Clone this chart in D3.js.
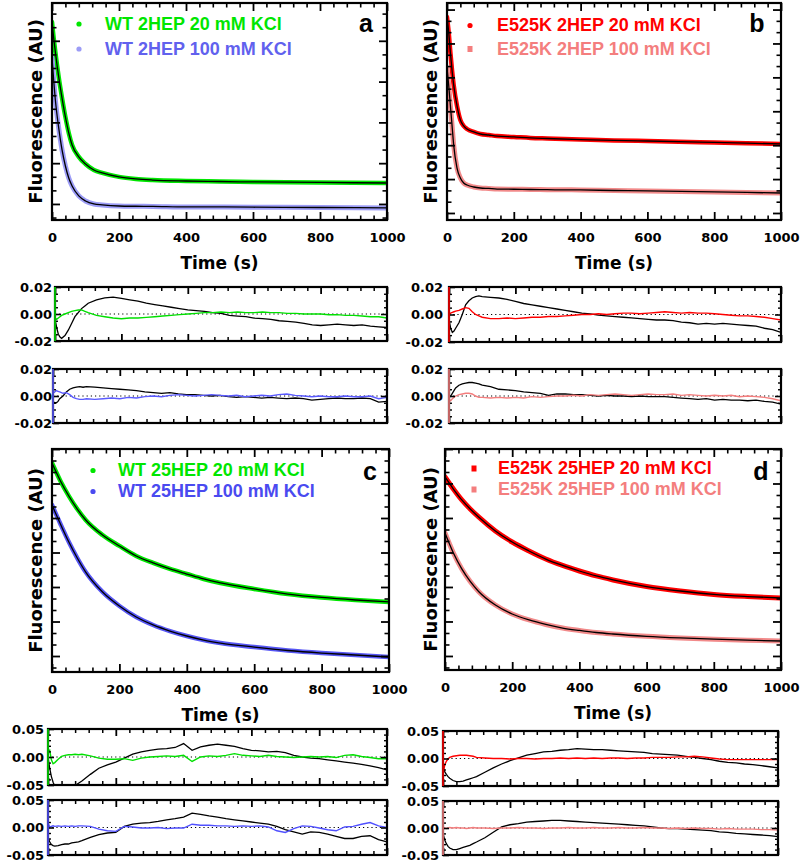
<!DOCTYPE html>
<html><head><meta charset="utf-8">
<script src="https://cdn.jsdelivr.net/npm/d3@7"></script>
<style>body{margin:0;background:#fff} svg{display:block}</style>
</head><body>
<svg id="chart" width="800" height="863"></svg>
<script>
// ---------- DATA ----------
const mainTimes2 = [0,5,10,15,20,30,40,50,60,80,100,125,150,200,250,300,400,500,600,800,1000];
const wt2hep20  = [13.38,12.21,11.18,10.22,9.34,7.79,6.40,5.22,4.34,3.46,2.94,2.50,2.28,1.99,1.84,1.76,1.69,1.65,1.62,1.58,1.54];
const wt2hep100 = [10.74,9.12,7.65,6.54,5.59,3.97,2.79,1.91,1.32,0.59,0.22,0.00,-0.07,-0.15,-0.17,-0.18,-0.22,-0.22,-0.24,-0.26,-0.29];
const mu2hep20  = [17.35,16.02,14.25,12.65,11.33,9.47,8.23,7.70,7.43,7.17,6.99,6.90,6.81,6.73,6.64,6.59,6.50,6.42,6.37,6.24,6.11];
const mu2hep100 = [12.83,11.33,9.56,7.79,6.02,3.98,3.10,2.65,2.48,2.30,2.21,2.17,2.12,2.10,2.08,2.06,2.04,1.99,1.95,1.86,1.77];

const mainTimes25 = [0,25,50,75,100,150,200,250,300,350,400,450,500,600,700,800,900,1000];
const wt25hep20  = [16.78,15.22,13.91,12.78,11.83,10.52,9.57,8.70,8.09,7.57,7.13,6.70,6.35,5.83,5.39,5.09,4.87,4.70];
const wt25hep100 = [13.13,11.48,9.91,8.52,7.30,5.57,4.35,3.39,2.70,2.17,1.74,1.39,1.13,0.78,0.48,0.26,0.09,-0.09];
const mu25hep20  = [15.57,14.52,13.57,12.78,12.09,10.87,9.91,9.13,8.43,7.87,7.39,6.96,6.61,6.04,5.65,5.35,5.17,5.04];
const mu25hep100 = [10.70,8.96,7.57,6.48,5.61,4.43,3.65,3.13,2.74,2.43,2.22,2.04,1.91,1.71,1.57,1.46,1.37,1.30];

const residTimes = [0,5,10,15,20,30,40,50,60,70,80,90,100,
  125,150,175,200,225,250,275,300,325,350,375,400,425,450,475,500,525,550,575,600,
  625,650,675,700,725,750,775,800,825,850,875,900,925,950,975,1000];

// residuals (black = single-exponential fit, coloured = double-exponential fit)
const resA20single = [-0.004,-0.010,-0.015,-0.017,-0.018,-0.016,-0.012,-0.007,-0.002,0.001,0.004,0.006,0.008,
  0.0105,0.012,0.0125,0.0115,0.0105,0.0095,0.008,0.007,0.006,0.005,0.004,0.003,0.0025,0.002,0.001,0.0005,-0.001,-0.0015,-0.002,-0.003,-0.0035,-0.004,-0.005,-0.0055,-0.006,-0.007,-0.008,-0.0085,-0.008,-0.0075,-0.008,-0.0085,-0.008,-0.009,-0.0095,-0.010];
const resA20double = [-0.003,-0.004,-0.003,-0.002,-0.001,0.000,0.001,0.002,0.0025,0.003,0.003,0.002,0.001,
  -0.001,-0.002,-0.003,-0.0035,-0.003,-0.003,-0.0025,-0.002,-0.0015,-0.001,-0.0005,0.000,0.0005,0.001,0.001,0.0015,0.001,0.0015,0.001,0.001,0.0015,0.001,0.001,0.0005,0.0005,0.000,0.000,0.000,-0.0005,-0.0005,-0.001,-0.001,-0.0015,-0.002,-0.002,-0.003];
const resA100single = [-0.004,-0.005,-0.005,-0.004,-0.002,0.000,0.003,0.005,0.006,0.0065,0.007,0.0065,0.007,
  0.0065,0.006,0.0055,0.005,0.0045,0.004,0.003,0.0025,0.002,0.0025,0.0015,0.001,0.001,0.0005,0.000,0.0005,-0.0005,-0.001,-0.0005,-0.001,-0.0015,-0.001,-0.0015,-0.002,-0.0015,-0.002,-0.003,-0.0025,-0.002,-0.0015,-0.002,-0.002,-0.0015,-0.002,-0.0045,-0.004];
const resA100double = [0.002,0.003,0.004,0.0035,0.003,0.002,0.0025,0.001,-0.001,-0.002,-0.0025,-0.0025,-0.002,
  -0.0025,-0.002,-0.0015,-0.002,-0.001,-0.0015,-0.0005,0.000,-0.0005,0.0005,0.001,0.0005,0.000,0.0005,0.001,0.0005,0.000,0.0005,-0.0005,0.000,0.0005,0.000,0.001,0.0015,0.0005,0.000,-0.0005,0.000,-0.0005,-0.0005,0.000,-0.0005,-0.0005,0.000,-0.002,-0.001];
const resB20single = [-0.004,-0.010,-0.013,-0.012,-0.010,-0.006,0.000,0.007,0.010,0.012,0.013,0.0135,0.013,
  0.0125,0.012,0.011,0.0095,0.008,0.007,0.006,0.005,0.004,0.003,0.002,0.001,0.0005,-0.0005,-0.001,-0.0015,-0.002,-0.0025,-0.003,-0.0035,-0.004,-0.004,-0.0045,-0.0055,-0.006,-0.007,-0.0065,-0.007,-0.0065,-0.007,-0.0075,-0.008,-0.0085,-0.010,-0.011,-0.013];
const resB20double = [0.000,0.001,0.0015,0.002,0.0025,0.003,0.004,0.005,0.0045,0.002,0.000,-0.001,-0.002,
  -0.003,-0.003,-0.0025,-0.003,-0.0025,-0.002,-0.002,-0.0015,-0.0015,-0.001,-0.0005,0.000,0.000,0.0005,0.000,0.0005,0.001,0.001,0.0005,0.001,0.0015,0.002,0.0015,0.001,0.0015,0.001,0.001,0.0005,0.000,-0.0005,-0.001,-0.001,-0.0015,-0.002,-0.003,-0.004];
const resB100single = [-0.001,0.000,0.002,0.004,0.006,0.008,0.009,0.0095,0.010,0.010,0.0095,0.009,0.008,
  0.007,0.005,0.0045,0.004,0.003,0.0025,0.002,0.0005,0.0015,0.0015,0.001,0.001,0.0005,0.000,0.0005,0.000,0.000,-0.0005,0.000,-0.0005,-0.0005,-0.0005,-0.001,-0.0015,-0.002,-0.0025,-0.002,-0.003,-0.0025,-0.003,-0.003,-0.0035,-0.003,-0.004,-0.0045,-0.006];
const resB100double = [-0.0025,-0.0035,-0.002,-0.001,0.000,0.001,0.0015,0.002,0.002,0.0015,0.000,-0.001,-0.001,
  -0.0015,-0.001,-0.0015,-0.001,-0.0015,-0.0005,-0.001,-0.0005,0.000,0.000,0.0005,0.000,0.001,0.0005,0.001,0.0015,0.001,0.0005,0.001,0.0015,0.001,0.001,0.0015,0.0005,0.001,0.0005,0.000,0.0005,0.000,0.0005,-0.0005,0.000,-0.0005,-0.001,-0.002,-0.0035];
const resC20single = [0.000,-0.020,-0.035,-0.045,-0.052,-0.060,-0.064,-0.063,-0.060,-0.056,-0.051,-0.047,-0.043,
  -0.031,-0.020,-0.014,-0.009,-0.002,0.005,0.009,0.012,0.014,0.015,0.017,0.024,0.012,0.018,0.021,0.023,0.021,0.019,0.015,0.012,0.011,0.009,0.010,0.008,0.003,0.000,-0.002,-0.003,-0.005,-0.007,-0.009,-0.011,-0.013,-0.016,-0.019,-0.023];
const resC20double = [0.010,0.012,-0.005,-0.012,-0.010,-0.004,0.001,0.003,0.004,0.004,0.005,0.004,0.005,
  0.002,-0.002,-0.004,-0.004,-0.003,-0.006,-0.002,0.000,0.001,0.002,0.001,0.003,-0.008,0.000,0.002,0.001,0.003,0.006,0.003,0.002,0.001,0.003,0.001,0.000,-0.001,0.000,0.001,0.000,0.001,-0.001,0.003,0.004,0.001,-0.001,-0.003,-0.003];
const resC100single = [-0.018,-0.026,-0.031,-0.033,-0.034,-0.033,-0.031,-0.030,-0.030,-0.028,-0.027,-0.026,-0.024,
  -0.018,-0.013,-0.010,-0.009,0.002,0.006,0.008,0.009,0.011,0.014,0.016,0.019,0.026,0.024,0.021,0.019,0.016,0.014,0.012,0.010,0.008,0.006,0.002,-0.004,-0.008,-0.012,-0.008,-0.009,-0.012,-0.016,-0.020,-0.020,-0.016,-0.015,-0.022,-0.026];
const resC100double = [0.008,0.001,0.002,0.003,0.002,0.003,0.002,0.003,0.002,0.003,0.002,0.003,0.003,
  0.002,-0.003,-0.006,-0.007,0.002,0.001,-0.001,-0.001,0.000,-0.002,-0.001,-0.001,0.006,0.004,0.004,0.003,0.003,0.002,0.003,0.002,0.003,0.001,-0.006,-0.009,-0.002,0.003,0.002,-0.001,-0.004,-0.006,0.001,0.002,0.006,0.009,0.003,0.000];
const resD20single = [-0.016,-0.024,-0.029,-0.033,-0.036,-0.040,-0.042,-0.042,-0.041,-0.039,-0.037,-0.035,-0.033,
  -0.025,-0.017,-0.010,-0.004,0.001,0.006,0.009,0.012,0.013,0.015,0.016,0.018,0.017,0.016,0.016,0.015,0.014,0.013,0.012,0.011,0.009,0.008,0.007,0.006,0.004,0.002,0.000,-0.002,-0.005,-0.007,-0.008,-0.010,-0.011,-0.013,-0.015,-0.017];
const resD20double = [-0.030,-0.012,-0.005,-0.001,0.002,0.004,0.005,0.006,0.006,0.006,0.005,0.004,0.002,
  0.001,0.000,0.000,-0.001,0.000,0.000,-0.001,0.000,0.000,0.001,0.000,0.001,0.000,0.001,0.000,0.001,0.001,0.000,0.001,0.001,0.002,0.002,0.002,0.003,0.003,0.004,0.003,0.001,-0.001,-0.002,-0.002,-0.002,-0.002,-0.002,-0.002,-0.002];
const resD100single = [-0.010,-0.022,-0.029,-0.034,-0.037,-0.040,-0.040,-0.038,-0.036,-0.034,-0.032,-0.029,-0.026,
  -0.018,-0.008,0.002,0.006,0.008,0.011,0.012,0.013,0.014,0.014,0.013,0.012,0.011,0.010,0.009,0.008,0.007,0.006,0.005,0.004,0.002,0.000,-0.001,-0.001,-0.002,-0.003,-0.004,-0.005,-0.007,-0.008,-0.010,-0.011,-0.012,-0.013,-0.014,-0.016];
const resD100double = [0.001,0.000,-0.001,0.000,0.001,0.000,0.001,0.000,0.000,-0.001,0.000,0.001,0.000,
  0.000,-0.001,0.000,0.000,0.001,0.000,0.000,-0.001,0.000,0.000,0.001,0.000,0.000,0.001,0.000,0.000,0.001,0.000,0.000,0.001,0.000,0.000,-0.001,0.000,-0.001,0.000,-0.001,-0.001,-0.002,-0.001,-0.002,-0.002,-0.002,-0.003,-0.003,-0.004];

const xMajorTicks = [0,200,400,600,800,1000];
const legendA = ["WT 2HEP 20 mM KCl","WT 2HEP 100 mM KCl"];
const legendB = ["E525K 2HEP 20 mM KCl","E525K 2HEP 100 mM KCl"];
const legendC = ["WT 25HEP 20 mM KCl","WT 25HEP 100 mM KCl"];
const legendD = ["E525K 25HEP 20 mM KCl","E525K 25HEP 100 mM KCl"];

// ---------- STYLE ----------
const FT = "'DejaVu Sans', sans-serif";
const FL = "'Liberation Sans', Arial, sans-serif";
const GREEN = "#00e600", RED = "#ff0000";
const svg = d3.select("#chart");
let clipN = 0;

function styleAxis(g, sw){
  g.select(".domain").remove();
  g.selectAll("line").attr("stroke","#000").attr("stroke-width",sw);
  g.selectAll("text").attr("font-family",FT).attr("font-weight","bold").attr("fill","#000");
}
function addClip(x0,y0,x1,y1){
  const id = "clip"+(clipN++);
  svg.append("clipPath").attr("id",id).append("rect")
    .attr("x",x0).attr("y",y0).attr("width",x1-x0).attr("height",y1-y0);
  return "url(#"+id+")";
}
function intRange(a,b,step){ const out=[]; for(let v=Math.ceil(a/step)*step; v<=b+1e-9; v+=step) out.push(+v.toFixed(6)); return out; }

function mainPanel(c){
  const x = d3.scaleLinear().domain([0,1000]).range([c.x0,c.x1]);
  const y = d3.scaleLinear().domain(c.yDomain).range([c.y1,c.y0]);
  const clip = addClip(c.x0,c.y0,c.x1,c.y1);
  const g = svg.append("g");
  const line = d3.line().x((d,i)=>x(c.times[i])).y(d=>y(d)).curve(d3.curveMonotoneX);
  c.series.forEach(s=>{
    g.append("path").datum(s.values).attr("d",line).attr("fill","none")
      .attr("stroke",s.color).attr("stroke-width",s.width).attr("stroke-linecap","round")
      .attr("stroke-linejoin","round").attr("clip-path",clip);
  });
  c.series.forEach(s=>{
    g.append("path").datum(s.values).attr("d",line).attr("fill","none")
      .attr("stroke","#000").attr("stroke-width",1.3).attr("clip-path",clip);
  });
  const minX = d3.range(0,1001,40).filter(v=>v%200!==0);
  const yAll = intRange(c.yDomain[0],c.yDomain[1],1);
  const majY = yAll.filter(v=>v%3===0), minY = yAll.filter(v=>v%3!==0);
  const ax = (gen, tr) => g.append("g").attr("transform",tr).call(gen);
  const bMaj = ax(d3.axisBottom(x).tickValues(xMajorTicks).tickSizeInner(-8).tickSizeOuter(0).tickPadding(12.8).tickFormat(d3.format("d")), `translate(0,${c.y1})`);
  styleAxis(bMaj,1.8); bMaj.selectAll("text").attr("font-size",13);
  styleAxis(ax(d3.axisBottom(x).tickValues(minX).tickSize(-4.5).tickFormat(""), `translate(0,${c.y1})`),1.6);
  styleAxis(ax(d3.axisTop(x).tickValues(xMajorTicks).tickSize(-8).tickFormat(""), `translate(0,${c.y0})`),1.8);
  styleAxis(ax(d3.axisTop(x).tickValues(minX).tickSize(-4.5).tickFormat(""), `translate(0,${c.y0})`),1.6);
  styleAxis(ax(d3.axisLeft(y).tickValues(majY).tickSize(-8).tickFormat(""), `translate(${c.x0},0)`),1.8);
  styleAxis(ax(d3.axisLeft(y).tickValues(minY).tickSize(-4.5).tickFormat(""), `translate(${c.x0},0)`),1.6);
  styleAxis(ax(d3.axisRight(y).tickValues(majY).tickSize(-8).tickFormat(""), `translate(${c.x1},0)`),1.8);
  styleAxis(ax(d3.axisRight(y).tickValues(minY).tickSize(-4.5).tickFormat(""), `translate(${c.x1},0)`),1.6);
  g.append("rect").attr("x",c.x0).attr("y",c.y0).attr("width",c.x1-c.x0).attr("height",c.y1-c.y0)
    .attr("fill","none").attr("stroke","#000").attr("stroke-width",2.2);
  g.append("text").attr("x",(c.x0+c.x1)/2).attr("y",c.y1+49).attr("text-anchor","middle")
    .attr("font-family",FT).attr("font-weight","bold").attr("font-size",17).text("Time (s)");
  g.append("text").attr("transform",`translate(${c.ylabX},${(c.y0+c.y1)/2}) rotate(-90)`)
    .attr("text-anchor","middle").attr("dominant-baseline","central")
    .attr("font-family",FT).attr("font-weight","bold").attr("font-size",18).text("Fluorescence (AU)");
  g.append("text").attr("x",c.letterX).attr("y",c.letterY).attr("text-anchor","middle")
    .attr("font-family",FL).attr("font-weight","bold").attr("font-size",25).text(c.letter);
  c.legend.forEach((L,i)=>{
    const ly = c.legendY[i];
    if(L.shape==="circle") g.append("circle").attr("cx",c.legendMX).attr("cy",ly).attr("r",2.6).attr("fill",L.marker);
    else g.append("rect").attr("x",c.legendMX-2.5).attr("y",ly-3).attr("width",5).attr("height",6).attr("fill",L.marker);
    g.append("text").attr("x",c.legendTX).attr("y",ly+5.5).attr("font-family",FL).attr("font-weight","bold")
      .attr("font-size",18).attr("fill",L.color).text(L.text);
  });
}

function residPanel(c){
  const x = d3.scaleLinear().domain([0,1000]).range([c.x0,c.x1]);
  const y = d3.scaleLinear().domain([-c.r,c.r]).range([c.y1,c.y0]);
  const clip = addClip(c.x0,c.y0,c.x1,c.y1);
  const g = svg.append("g");
  g.append("line").attr("x1",c.x0).attr("x2",c.x1).attr("y1",y(0)).attr("y2",y(0))
    .attr("stroke","#000").attr("stroke-width",1).attr("stroke-dasharray","1.2,3");
  const line = d3.line().x((d,i)=>x(residTimes[i])).y(d=>y(d));
  g.append("path").datum(c.single).attr("d",line).attr("fill","none").attr("stroke","#000")
    .attr("stroke-width",1.3).attr("clip-path",clip);
  g.append("path").datum(c.double).attr("d",line).attr("fill","none").attr("stroke",c.color)
    .attr("stroke-width",1.4).attr("clip-path",clip);
  const minX = d3.range(0,1001,40).filter(v=>v%200!==0);
  const yAll = intRange(-c.r,c.r,c.step).filter(v=>Math.abs(v)>1e-9 && Math.abs(Math.abs(v)-c.r)>1e-9);
  const ax = (gen, tr) => g.append("g").attr("transform",tr).call(gen);
  styleAxis(ax(d3.axisBottom(x).tickValues(xMajorTicks).tickSize(-7).tickFormat(""), `translate(0,${c.y1})`),1.8);
  styleAxis(ax(d3.axisBottom(x).tickValues(minX).tickSize(-4).tickFormat(""), `translate(0,${c.y1})`),1.5);
  styleAxis(ax(d3.axisTop(x).tickValues(xMajorTicks).tickSize(-7).tickFormat(""), `translate(0,${c.y0})`),1.8);
  styleAxis(ax(d3.axisTop(x).tickValues(minX).tickSize(-4).tickFormat(""), `translate(0,${c.y0})`),1.5);
  const lab = ax(d3.axisLeft(y).tickValues([-c.r,0,c.r]).tickSize(-6).tickPadding(c.x0-c.labelX).tickFormat(d=>d.toFixed(2)), `translate(${c.x0},0)`);
  styleAxis(lab,1.6); lab.selectAll("text").attr("font-size",13);
  styleAxis(ax(d3.axisLeft(y).tickValues(yAll).tickSize(-3).tickFormat(""), `translate(${c.x0},0)`),1.4);
  styleAxis(ax(d3.axisRight(y).tickValues([0]).tickSize(-6).tickFormat(""), `translate(${c.x1},0)`),1.6);
  styleAxis(ax(d3.axisRight(y).tickValues(yAll).tickSize(-3).tickFormat(""), `translate(${c.x1},0)`),1.4);
  g.append("rect").attr("x",c.x0).attr("y",c.y0).attr("width",c.x1-c.x0).attr("height",c.y1-c.y0)
    .attr("fill","none").attr("stroke","#000").attr("stroke-width",2.2);
  g.append("line").attr("x1",c.x0).attr("x2",c.x0).attr("y1",c.y0).attr("y2",c.y1)
    .attr("stroke",c.color).attr("stroke-width",1.6);
}

// ---------- PANELS ----------
mainPanel({x0:52,x1:387,y0:3,y1:220,yDomain:[-1.18,14.78],times:mainTimes2,
  series:[{values:wt2hep20,color:GREEN,width:4.5},{values:wt2hep100,color:"#9c9cf6",width:5}],
  letter:"a",letterX:366,letterY:32,ylabX:35,legendMX:79,legendTX:105,legendY:[24,49],
  legend:[{text:legendA[0],color:GREEN,marker:GREEN,shape:"circle"},{text:legendA[1],color:"#6161ee",marker:"#9c9cf6",shape:"circle"}]});
mainPanel({x0:447,x1:781,y0:3,y1:220,yDomain:[-0.62,18.58],times:mainTimes2,
  series:[{values:mu2hep20,color:RED,width:4.5},{values:mu2hep100,color:"#f28a8a",width:5}],
  letter:"b",letterX:757,letterY:32,ylabX:430,legendMX:470,legendTX:497,legendY:[25.5,49],
  legend:[{text:legendB[0],color:RED,marker:RED,shape:"circle"},{text:legendB[1],color:"#f47e7e",marker:"#f47e7e",shape:"rect"}]});
mainPanel({x0:52,x1:389,y0:449,y1:672,yDomain:[-1.39,18.0],times:mainTimes25,
  series:[{values:wt25hep20,color:GREEN,width:4.5},{values:wt25hep100,color:"#5656f4",width:4.5}],
  letter:"c",letterX:370,letterY:480,ylabX:35,legendMX:93,legendTX:118,legendY:[470.5,491.5],
  legend:[{text:legendC[0],color:GREEN,marker:GREEN,shape:"circle"},{text:legendC[1],color:"#4a4af0",marker:"#4a4af0",shape:"circle"}]});
mainPanel({x0:445,x1:781,y0:449,y1:670,yDomain:[-1.22,18.0],times:mainTimes25,
  series:[{values:mu25hep20,color:RED,width:5},{values:mu25hep100,color:"#f28a8a",width:5}],
  letter:"d",letterX:761,letterY:480,ylabX:430,legendMX:474,legendTX:498,legendY:[468.5,489.5],
  legend:[{text:legendD[0],color:RED,marker:RED,shape:"rect"},{text:legendD[1],color:"#f47e7e",marker:"#f47e7e",shape:"rect"}]});

residPanel({x0:55,x1:387,y0:287,y1:341,r:0.02,step:0.005,labelX:52,single:resA20single,double:resA20double,color:"#00e000"});
residPanel({x0:53,x1:387,y0:369,y1:423,r:0.02,step:0.005,labelX:52,single:resA100single,double:resA100double,color:"#5a5aff"});
residPanel({x0:449,x1:781,y0:287,y1:342,r:0.02,step:0.005,labelX:443,single:resB20single,double:resB20double,color:"#ff0000"});
residPanel({x0:449,x1:781,y0:369,y1:423,r:0.02,step:0.005,labelX:443,single:resB100single,double:resB100double,color:"#f47e7e"});
residPanel({x0:48,x1:387,y0:729,y1:785,r:0.05,step:0.01,labelX:44,single:resC20single,double:resC20double,color:"#00e000"});
residPanel({x0:48,x1:387,y0:800,y1:855,r:0.05,step:0.01,labelX:44,single:resC100single,double:resC100double,color:"#5050ff"});
residPanel({x0:443,x1:778,y0:731,y1:786,r:0.05,step:0.01,labelX:439,single:resD20single,double:resD20double,color:"#ff0000"});
residPanel({x0:443,x1:778,y0:801,y1:855,r:0.05,step:0.01,labelX:439,single:resD100single,double:resD100double,color:"#f47e7e"});
</script>
</body></html>
